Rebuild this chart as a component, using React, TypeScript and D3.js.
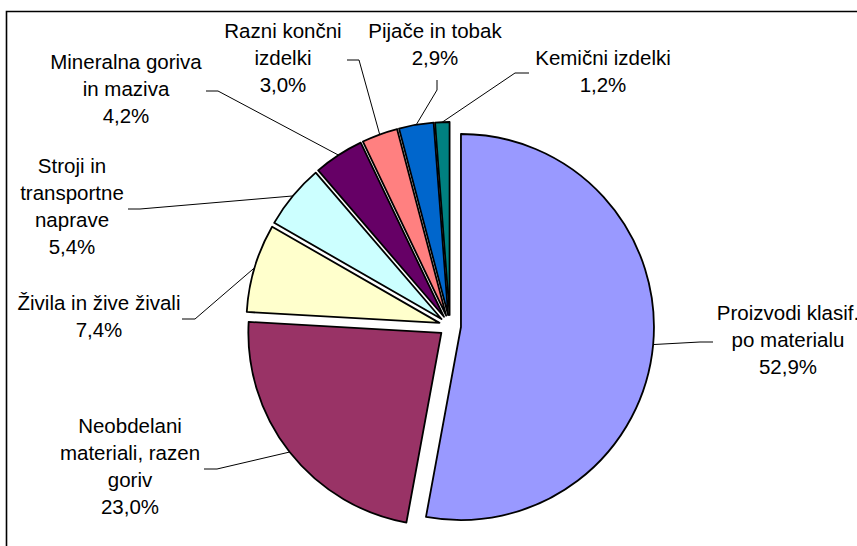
import * as d3 from "d3";

// slice order is clockwise from 12 o'clock, as in the source chart
const categories = [
  "Proizvodi klasif. po materialu",
  "Neobdelani materiali, razen goriv",
  "Živila in žive živali",
  "Stroji in transportne naprave",
  "Mineralna goriva in maziva",
  "Razni končni izdelki",
  "Pijače in tobak",
  "Kemični izdelki",
];
const values = [52.9, 23.0, 7.4, 5.4, 4.2, 3.0, 2.9, 1.2];
const labelLines = [
  ["Proizvodi klasif.", "po materialu"],
  ["Neobdelani", "materiali, razen", "goriv"],
  ["Živila in žive živali"],
  ["Stroji in", "transportne", "naprave"],
  ["Mineralna goriva", "in maziva"],
  ["Razni končni", "izdelki"],
  ["Pijače in tobak"],
  ["Kemični izdelki"],
];
const colors = ["#9999FF", "#993366", "#FFFFCC", "#CCFFFF", "#660066", "#FF8080", "#0066CC", "#008080"];

// label placement: text centre / first baseline, leader elbow, leader end
const labelLayout = [
  { x: 788, y: 320, elbow: [700, 342], end: [713, 342] },
  { x: 130, y: 433, elbow: [217, 469], end: [204, 469] },
  { x: 99, y: 310, elbow: [195, 319], end: [182, 319] },
  { x: 72, y: 173, elbow: [140, 209], end: [128, 209] },
  { x: 126, y: 69, elbow: [218, 91], end: [206, 91] },
  { x: 283, y: 38, elbow: [359, 60], end: [347, 60] },
  { x: 435, y: 38, elbow: [437, 90], end: [437, 80] },
  { x: 603, y: 65, elbow: [515, 73], end: [529, 73] },
];

const width = 857;
const height = 546;
const cx = 450;
const cy = 326;
const radius = 193;
const explode = 11;
const lineHeight = 27;

const fmt = (v: number) => d3.format(".1f")(v).replace(".", ",") + "%";

export default function App() {
  const pie = d3
    .pie<number>()
    .sort(null)
    .value((d) => d);
  const arcs = pie(values);
  const arc = d3.arc<d3.PieArcDatum<number>>().innerRadius(0).outerRadius(radius);

  const dir = (a: number) => [Math.sin(a), -Math.cos(a)];

  return (
    <svg
      width={width}
      height={height}
      style={{ position: "absolute", left: 0, top: 0, background: "#fff" }}
      fontFamily="'Liberation Sans', Arial, sans-serif"
    >
      {/* chart area border, runs off right and bottom */}
      <path d={`M6.5,${height + 5} V11.5 H${width + 5}`} fill="none" stroke="#000" strokeWidth={1.6} />

      <g transform={`translate(${cx},${cy})`}>
        {arcs.map((a, i) => {
          const mid = (a.startAngle + a.endAngle) / 2;
          const [dx, dy] = dir(mid);
          return (
            <path
              key={categories[i]}
              d={arc(a) || ""}
              transform={`translate(${dx * explode},${dy * explode})`}
              fill={colors[i]}
              stroke="#000"
              strokeWidth={1.8}
              strokeLinejoin="round"
            />
          );
        })}
      </g>

      {arcs.map((a, i) => {
        const mid = (a.startAngle + a.endAngle) / 2;
        const [dx, dy] = dir(mid);
        const px = cx + dx * (radius + explode);
        const py = cy + dy * (radius + explode);
        const L = labelLayout[i];
        return (
          <polyline
            key={"l" + i}
            points={`${px},${py} ${L.elbow[0]},${L.elbow[1]} ${L.end[0]},${L.end[1]}`}
            fill="none"
            stroke="#000"
            strokeWidth={1}
          />
        );
      })}

      {labelLines.map((lines, i) => {
        const L = labelLayout[i];
        const all = [...lines, fmt(values[i])];
        return (
          <text key={"t" + i} x={L.x} y={L.y} textAnchor="middle" fontSize={20.5} fill="#000">
            {all.map((s, j) => (
              <tspan key={j} x={L.x} y={L.y + j * lineHeight}>
                {s}
              </tspan>
            ))}
          </text>
        );
      })}
    </svg>
  );
}
